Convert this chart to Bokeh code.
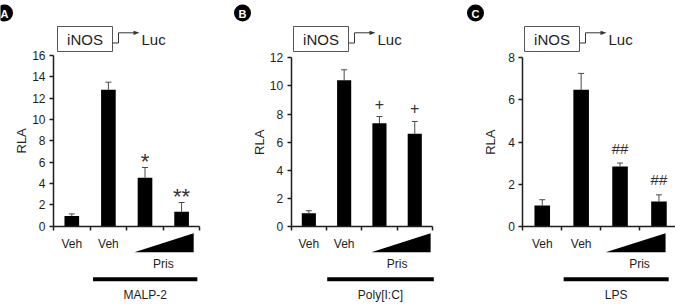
from bokeh.plotting import figure
from bokeh.models import LinearAxis, FixedTicker, Range1d, Whisker, TeeHead, ColumnDataSource
from bokeh.layouts import row
from bokeh.core.properties import value
from bokeh.embed import file_html
from bokeh.resources import INLINE
import math

# ---- data -------------------------------------------------------------
groups = ["Veh", "Veh", "Pris (low)", "Pris (high)"]
group_x = [0.5, 1.5, 2.5, 3.5]
veh_labels = ["Veh", "Veh"]

malp2_rla = [0.95, 12.8, 4.55, 1.35]
malp2_err = [0.20, 0.70, 0.95, 0.87]
malp2_marks = ["", "", "*", "**"]

polyic_rla = [0.97, 10.4, 7.35, 6.6]
polyic_err = [0.17, 0.75, 0.48, 0.88]
polyic_marks = ["", "", "+", "+"]

lps_rla = [1.0, 6.48, 2.85, 1.19]
lps_err = [0.27, 0.78, 0.16, 0.31]
lps_marks = ["", "", "##", "##"]

panel_letters = ["A", "B", "C"]
stimuli = ["MALP-2", "Poly[I:C]", "LPS"]
y_max = [16, 12, 8]
y_step = 2

# ---- layout (pixels inside each 225 x 304 panel) ----------------------
W, H = 225, 304
FONT = "Liberation Sans"
INK = "#1e1e1e"
LAYOUT = [
    dict(axis_x=53.0, cat_w=36.6, base_y=225.7, top_y=55.0, badge_x=4, box_x=57,
         tri=(2.21, 3.83), bracket=(1.08, 3.93), mark_size="22px", mark_dy=-6),
    dict(axis_x=65.7, cat_w=35.3, base_y=226.3, top_y=57.3, badge_x=17, box_x=68,
         tri=(2.27, 3.95), bracket=(1.02, 4.04), mark_size="16px", mark_dy=-13),
    dict(axis_x=72.3, cat_w=38.9, base_y=226.0, top_y=57.3, badge_x=25, box_x=74,
         tri=(2.13, 3.67), bracket=(1.05, 3.75), mark_size="15px", mark_dy=-15),
]


def make_panel(i, rla, err, marks):
    L = LAYOUT[i]
    unit = (L["base_y"] - L["top_y"]) / y_max[i]
    x_range = Range1d(-L["axis_x"] / L["cat_w"], (W - L["axis_x"]) / L["cat_w"])
    y_range = Range1d(-(H - L["base_y"]) / unit, y_max[i] + L["top_y"] / unit)

    p = figure(width=W, height=H, x_range=x_range, y_range=y_range,
               x_axis_type=None, y_axis_type=None, toolbar_location=None,
               output_backend="svg", min_border=0, outline_line_color=None)
    p.extra_x_ranges = {"px": Range1d(0, W)}
    p.extra_y_ranges = {"px": Range1d(H, 0)}

    # y axis
    yaxis = LinearAxis(fixed_location=0, bounds=(0, y_max[i]),
                       ticker=FixedTicker(ticks=list(range(0, y_max[i] + 1, y_step))))
    yaxis.axis_line_width = 1.5
    yaxis.axis_line_color = INK
    yaxis.major_tick_line_width = 1.5
    yaxis.major_tick_line_color = INK
    yaxis.major_tick_out = 4
    yaxis.major_tick_in = 0
    yaxis.minor_tick_out = 0
    yaxis.minor_tick_in = 0
    yaxis.major_label_standoff = 4
    yaxis.major_label_text_font = FONT
    yaxis.major_label_text_font_size = "12px"
    yaxis.major_label_text_color = INK
    p.add_layout(yaxis, "left")

    # x axis (tick marks between groups, no labels)
    xaxis = LinearAxis(fixed_location=0, bounds=(0, 4),
                       ticker=FixedTicker(ticks=[0, 1, 2, 3, 4]))
    xaxis.major_label_overrides = {k: "" for k in range(5)}
    xaxis.axis_line_width = 1.5
    xaxis.axis_line_color = INK
    xaxis.major_tick_line_width = 1.5
    xaxis.major_tick_line_color = INK
    xaxis.major_tick_out = 4
    xaxis.major_tick_in = 0
    xaxis.minor_tick_out = 0
    xaxis.minor_tick_in = 0
    p.add_layout(xaxis, "below")

    src = ColumnDataSource(dict(
        x=group_x, rla=rla, upper=[r + e for r, e in zip(rla, err)], mark=marks))

    p.vbar(x="x", top="rla", bottom=0, width=0.4, source=src,
           fill_color="black", line_color=None)
    p.add_layout(Whisker(source=src, base="x", lower="rla", upper="upper",
                         dimension="height", line_color="#4a4a4a", line_width=1,
                         upper_head=TeeHead(size=6, line_color="#4a4a4a", line_width=1),
                         lower_head=None))
    p.text(x="x", y="upper", text="mark", source=src, y_offset=L["mark_dy"],
           text_align="center", text_baseline="middle", text_font=value(FONT),
           text_font_size=L["mark_size"], text_color="#333333")

    # y axis title
    p.text(x=[L["axis_x"] - 32], y=[(L["base_y"] + L["top_y"]) / 2], text=["RLA"],
           angle=math.pi / 2, text_align="center", text_baseline="middle",
           text_font=value(FONT), text_font_size="13px", text_color=INK,
           x_range_name="px", y_range_name="px")

    # panel badge
    p.scatter(x=[L["badge_x"]], y=[12.5], size=17, marker="circle",
              fill_color="black", line_color=None,
              x_range_name="px", y_range_name="px")
    p.text(x=[L["badge_x"]], y=[13], text=[panel_letters[i]], text_align="center",
           text_baseline="middle", text_font=value(FONT), text_font_style="bold",
           text_font_size="11px", text_color="white",
           x_range_name="px", y_range_name="px")

    # reporter construct: iNOS promoter box -> Luc
    bx = L["box_x"]
    p.quad(left=[bx], right=[bx + 55], top=[26], bottom=[51], fill_color=None,
           line_color="#555555", line_width=1,
           x_range_name="px", y_range_name="px")
    p.text(x=[bx + 27.5], y=[39], text=["iNOS"], text_align="center",
           text_baseline="middle", text_font=value(FONT), text_font_size="15px",
           text_color=INK, x_range_name="px", y_range_name="px")
    p.line(x=[bx + 55, bx + 61, bx + 61, bx + 77], y=[42.5, 42.5, 32.3, 32.3],
           line_color="#333333", line_width=1,
           x_range_name="px", y_range_name="px")
    p.patch(x=[bx + 76, bx + 82, bx + 76], y=[30.2, 32.3, 34.4],
            fill_color="#333333", line_color=None,
            x_range_name="px", y_range_name="px")
    p.text(x=[bx + 84], y=[39], text=["Luc"], text_align="left",
           text_baseline="middle", text_font=value(FONT), text_font_size="15px",
           text_color=INK, x_range_name="px", y_range_name="px")

    # treatment annotation below the axis
    p.text(x=group_x[:2], y=[243, 243], text=veh_labels, text_align="center",
           text_baseline="middle", text_font=value(FONT), text_font_size="12px",
           text_color=INK, y_range_name="px")
    t0, t1 = L["tri"]
    p.patch(x=[t0, t1, t1], y=[251.7, 251.7, 232.7], fill_color="black",
            line_color=None, y_range_name="px")
    p.text(x=[3.0], y=[263.5], text=["Pris"], text_align="center",
           text_baseline="middle", text_font=value(FONT), text_font_size="12px",
           text_color=INK, y_range_name="px")
    b0, b1 = L["bracket"]
    p.quad(left=[b0], right=[b1], top=[276.7], bottom=[280.7], fill_color="black",
           line_color=None, y_range_name="px")
    p.text(x=[(b0 + b1) / 2], y=[294.5], text=[stimuli[i]], text_align="center",
           text_baseline="middle", text_font=value(FONT), text_font_size="12px",
           text_color=INK, y_range_name="px")
    return p


panels = [
    make_panel(0, malp2_rla, malp2_err, malp2_marks),
    make_panel(1, polyic_rla, polyic_err, polyic_marks),
    make_panel(2, lps_rla, lps_err, lps_marks),
]
layout = row(*panels, spacing=0)

open("out.html", "w").write(file_html(layout, INLINE))
